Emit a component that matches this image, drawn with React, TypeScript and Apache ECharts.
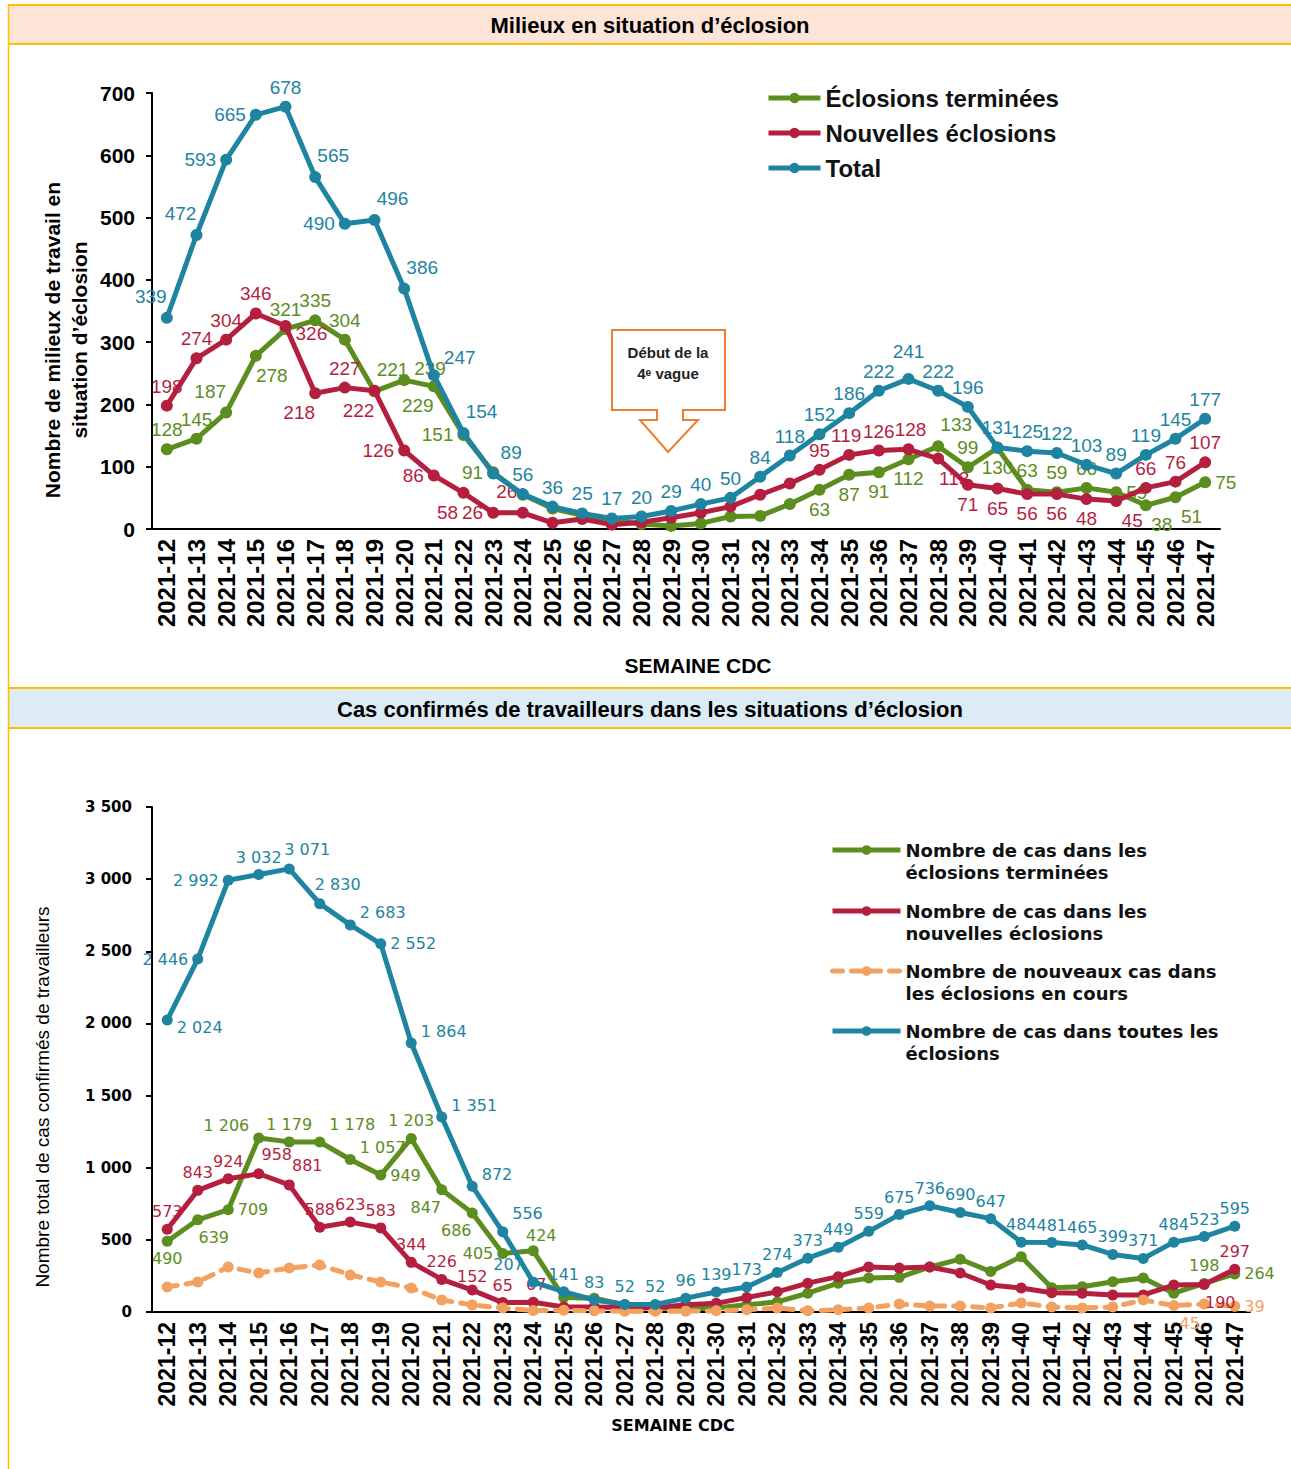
import React, { useEffect, useRef } from "react";
import * as echarts from "echarts";

// ---------- data ----------
const weeks = [
  "2021-12", "2021-13", "2021-14", "2021-15", "2021-16", "2021-17", "2021-18", "2021-19", "2021-20",
  "2021-21", "2021-22", "2021-23", "2021-24", "2021-25", "2021-26", "2021-27", "2021-28", "2021-29",
  "2021-30", "2021-31", "2021-32", "2021-33", "2021-34", "2021-35", "2021-36", "2021-37", "2021-38",
  "2021-39", "2021-40", "2021-41", "2021-42", "2021-43", "2021-44", "2021-45", "2021-46", "2021-47",
];

// Top chart: number of workplaces in outbreak
const eclosionsTerminees = [
  128, 145, 187, 278, 321, 335, 304, 221, 239, 229, 151, 91,
  55, 33, 22, 14, 8, 5, 9, 20, 21, 40,
  63, 87, 91, 112, 133, 99, 130, 63, 59, 66, 59, 38, 51, 75,
];
const nouvellesEclosions = [
  198, 274, 304, 346, 326, 218, 227, 222, 126, 86, 58, 26, 26,
  10, 16, 7, 11, 18, 26, 36, 55, 73,
  95, 119, 126, 128, 113, 71, 65, 56, 56, 48, 45, 66, 76, 107,
];
const totalEclosions = [
  339, 472, 593, 665, 678, 565, 490, 496, 386, 247, 154, 89,
  56, 36, 25, 17, 20, 29, 40, 50, 84, 118, 152, 186,
  222, 241, 222, 196, 131, 125, 122, 103, 89, 119, 145, 177,
];

// Bottom chart: confirmed worker cases
const casTerminees = [
  490, 639, 709, 1206, 1179, 1178, 1057, 949, 1203, 847, 686, 405, 424,
  100, 95, 50, 30, 20, 28, 50, 70, 130, 200, 235, 240, 312, 366, 280, 383, 168, 175, 210, 235, 130,
  198, 264,
];
const casNouvelles = [
  573, 843, 924, 958, 881, 588, 623, 583, 344, 226, 152, 65, 67,
  35, 35, 30, 28, 50, 60, 100, 140, 200, 245, 312, 305, 312, 270, 187, 166, 133, 130, 118, 118, 187,
  190, 297,
];
const casEnCours = [
  173, 208, 312, 270, 305, 326, 257, 208, 166, 83, 49, 28,
  10, 12, 8, 5, 5, 6, 8, 15, 28, 8, 15,
  28, 55, 42, 42, 28, 62, 35, 28, 35, 83, 45, 55, 39,
];
const casTotal = [
  2024, 2446, 2992, 3032, 3071, 2830, 2683, 2552, 1864, 1351, 872, 556, 207,
  141, 83, 52, 52, 96, 139, 173, 274, 373, 449, 559, 675, 736, 690, 647, 484, 481, 465, 399, 371,
  484, 523, 595,
];

const topNames = ["Éclosions terminées", "Nouvelles éclosions", "Total"];
const bottomNames = [
  "Nombre de cas dans les\néclosions terminées",
  "Nombre de cas dans les\nnouvelles éclosions",
  "Nombre de nouveaux cas dans\nles éclosions en cours",
  "Nombre de cas dans toutes les\néclosions",
];

// ---------- label placement (style, per point) ----------
const codes = (s: string) => s.trim().split(/\s+/);
const topTermineesPos = codes("t t tl br t t t tr rt bl l l - - - - - - - - - - b b b b tr t b t t t r br br r");
const topNouvellesPos = codes("t t t t rb bl t bl l l bl l tl - - - - - - - - - t tL t tR br b b b b b br t t t");
const topTotalPos = codes("tl tl l l t tr l tr tr rtt tr tr t t t t t t t t t t t t t tU t t t t t t t t t t");
const botTermineesPos = codes("b br r lt t rtt rt r t bl bl l tr2 - - - - - - - - - - - - - - - - - - - - - t r");
const botNouvellesPos = codes("t t t tr tr t t t t t t2 t t3 - - - - - - - - - - - - - - - - - - - - - br t");
const botEnCoursPos = codes("- - - - - - - - - - - - - - - - - - - - - - - - - - - - - - - - - br - r");
const botTotalPos = codes("rb l l t tr tr rt r rt rt rt rtt l3 t t t t t t t t t t t t t t t t t t t t t t t");

const LBL: Record<string, any> = {
  t: { position: "top" },
  b: { position: "bottom" },
  l: { position: "left" },
  r: { position: "right" },
  tl: { position: "top", offset: [-16, -2] },
  tr: { position: "top", offset: [18, -2] },
  bl: { position: "bottom", offset: [-16, 0] },
  br: { position: "bottom", offset: [16, 0] },
  rt: { position: "right", offset: [0, -12] },
  rtt: { position: "right", offset: [0, -18] },
  rb: { position: "right", offset: [0, 8] },
  lt: { position: "left", offset: [0, -12] },
  l3: { position: "left", offset: [0, -18] },
  tL: { position: "top", offset: [-3, 0] },
  tR: { position: "top", offset: [2, 0] },
  tU: { position: "top", offset: [0, -8] },
  tr2: { position: "top", offset: [8, 2] },
  t2: { position: "top", offset: [0, 4] },
  t3: { position: "top", offset: [3, 0] },
};

const ARIAL = "'Liberation Sans', Arial, sans-serif";
const NARROW = "'Liberation Sans Narrow', 'Liberation Sans', Arial, sans-serif";
const WIDE = "'DejaVu Sans', Verdana, sans-serif";

const GREEN = "#5c8d1f";
const RED = "#b51f3f";
const BLUE = "#1e84a1";
const ORANGE = "#f3a160";

const spaced = (v: number) => String(v).replace(/\B(?=(\d{3})+(?!\d))/g, " ");

function buildSeries(
  name: string,
  values: number[],
  pos: string[],
  color: string,
  axis: number,
  labelFont: any,
  extra: any = {}
) {
  return {
    type: "line",
    name,
    xAxisIndex: axis,
    yAxisIndex: axis,
    data: values.map((v, i) => {
      const c = pos[i];
      if (!c || c === "-") return { value: v, label: { show: false } };
      return { value: v, label: { show: true, ...LBL[c] } };
    }),
    symbol: "circle",
    symbolSize: axis === 0 ? 12 : 11,
    lineStyle: { color, width: 5, ...(extra.lineStyle || {}) },
    itemStyle: { color },
    label: {
      show: true,
      color,
      distance: 4,
      formatter: (p: any) => spaced(p.value),
      ...labelFont,
    },
    emphasis: { disabled: true },
    z: extra.z || 2,
  };
}

export default function App() {
  const ref = useRef<HTMLDivElement>(null);

  useEffect(() => {
    if (!ref.current) return;
    const chart = echarts.init(ref.current, undefined, { renderer: "svg" });

    const topLabelFont = { fontFamily: ARIAL, fontSize: 19 };
    const botLabelFont = { fontFamily: WIDE, fontSize: 16 };

    const option: any = {
      animation: false,
      backgroundColor: "#ffffff",
      grid: [
        { left: 152, top: 93, width: 1068, height: 436 },
        { left: 152, top: 807, width: 1098, height: 505 },
      ],
      xAxis: [
        {
          type: "category",
          gridIndex: 0,
          data: weeks,
          boundaryGap: true,
          axisLine: { lineStyle: { color: "#000", width: 2 } },
          axisTick: { alignWithLabel: true, length: 7, lineStyle: { color: "#000", width: 2 } },
          axisLabel: {
            interval: 0,
            rotate: 90,
            margin: 10,
            color: "#000",
            fontFamily: ARIAL,
            fontWeight: "bold",
            fontSize: 24,
          },
        },
        {
          type: "category",
          gridIndex: 1,
          data: weeks,
          boundaryGap: true,
          axisLine: { lineStyle: { color: "#000", width: 2 } },
          axisTick: { alignWithLabel: true, length: 7, lineStyle: { color: "#000", width: 2 } },
          axisLabel: {
            interval: 0,
            rotate: 90,
            margin: 10,
            color: "#000",
            fontFamily: NARROW,
            fontWeight: "bold",
            fontSize: 23,
          },
        },
      ],
      yAxis: [
        {
          type: "value",
          gridIndex: 0,
          min: 0,
          max: 700,
          interval: 100,
          splitLine: { show: false },
          axisLine: { show: true, lineStyle: { color: "#000", width: 2 } },
          axisTick: { show: true, length: 6, lineStyle: { color: "#000", width: 2 } },
          axisLabel: { color: "#000", fontFamily: ARIAL, fontWeight: "bold", fontSize: 21, margin: 17 },
        },
        {
          type: "value",
          gridIndex: 1,
          min: 0,
          max: 3500,
          interval: 500,
          splitLine: { show: false },
          axisLine: { show: true, lineStyle: { color: "#000", width: 2 } },
          axisTick: { show: true, length: 6, lineStyle: { color: "#000", width: 2 } },
          axisLabel: {
            color: "#000",
            fontFamily: WIDE,
            fontWeight: "bold",
            fontSize: 15,
            margin: 20,
            formatter: (v: number) => spaced(v),
          },
        },
      ],
      legend: [
        {
          data: topNames,
          orient: "vertical",
          left: 766,
          top: 86,
          itemWidth: 52,
          itemHeight: 13,
          itemGap: 11,
          padding: 0,
          lineStyle: { width: 5 },
          textStyle: { fontFamily: ARIAL, fontWeight: "bold", fontSize: 24, color: "#111" },
          selectedMode: false,
        },
        ...bottomNames.map((n, i) => ({
          data: [n],
          orient: "vertical",
          left: 830,
          top: [817, 878, 938, 998][i],
          itemWidth: 68,
          itemHeight: 12,
          padding: 0,
          lineStyle: { width: 5 },
          formatter: (name: string) => "\n" + name,
          textStyle: { fontFamily: WIDE, fontWeight: "bold", fontSize: 18, lineHeight: 22, color: "#111" },
          selectedMode: false,
        })),
      ],
      series: [
        buildSeries(topNames[0], eclosionsTerminees, topTermineesPos, GREEN, 0, topLabelFont, { z: 2 }),
        buildSeries(topNames[1], nouvellesEclosions, topNouvellesPos, RED, 0, topLabelFont, { z: 3 }),
        buildSeries(topNames[2], totalEclosions, topTotalPos, BLUE, 0, topLabelFont, { z: 4 }),
        buildSeries(bottomNames[0], casTerminees, botTermineesPos, GREEN, 1, botLabelFont, { z: 2 }),
        buildSeries(bottomNames[1], casNouvelles, botNouvellesPos, RED, 1, botLabelFont, { z: 3 }),
        buildSeries(bottomNames[2], casEnCours, botEnCoursPos, ORANGE, 1, botLabelFont, {
          z: 3,
          lineStyle: { type: [10, 9], cap: "round" },
        }),
        buildSeries(bottomNames[3], casTotal, botTotalPos, BLUE, 1, botLabelFont, { z: 4 }),
      ],
      graphic: [
        // header 1
        { type: "rect", silent: true, shape: { x: 8, y: 5, width: 1283, height: 39 }, style: { fill: "#FCE4D6" } },
        { type: "line", silent: true, shape: { x1: 8, y1: 5, x2: 1291, y2: 5 }, style: { stroke: "#FFC000", lineWidth: 2 } },
        { type: "line", silent: true, shape: { x1: 8, y1: 44, x2: 1291, y2: 44 }, style: { stroke: "#FFC000", lineWidth: 2 } },
        {
          type: "text",
          silent: true,
          x: 650,
          y: 25,
          style: {
            text: "Milieux en situation d’éclosion",
            fontFamily: ARIAL,
            fontWeight: "bold",
            fontSize: 22,
            fill: "#000",
            align: "center",
            verticalAlign: "middle",
          },
        },
        // header 2
        { type: "rect", silent: true, shape: { x: 8, y: 688, width: 1283, height: 40 }, style: { fill: "#DDEBF7" } },
        { type: "line", silent: true, shape: { x1: 8, y1: 688, x2: 1291, y2: 688 }, style: { stroke: "#FFC000", lineWidth: 2 } },
        { type: "line", silent: true, shape: { x1: 8, y1: 728, x2: 1291, y2: 728 }, style: { stroke: "#FFC000", lineWidth: 2 } },
        {
          type: "text",
          silent: true,
          x: 650,
          y: 709,
          style: {
            text: "Cas confirmés de travailleurs dans les situations d’éclosion",
            fontFamily: ARIAL,
            fontWeight: "bold",
            fontSize: 22,
            fill: "#000",
            align: "center",
            verticalAlign: "middle",
          },
        },
        // left border
        { type: "line", silent: true, shape: { x1: 8.5, y1: 5, x2: 8.5, y2: 1469 }, style: { stroke: "#FFC000", lineWidth: 1.5 } },
        // callout
        {
          type: "polygon",
          silent: true,
          shape: {
            points: [
              [612, 330], [725, 330], [725, 410], [683, 410], [683, 420], [698, 420],
              [668, 452], [640, 420], [657, 420], [657, 410], [612, 410],
            ],
          },
          style: { fill: "#ffffff", stroke: "#ED7D31", lineWidth: 2 },
        },
        {
          type: "text",
          silent: true,
          x: 668,
          y: 352,
          style: { text: "Début de la", fontFamily: NARROW, fontWeight: "bold", fontSize: 15, fill: "#222", align: "center", verticalAlign: "middle" },
        },
        {
          type: "text",
          silent: true,
          x: 668,
          y: 373,
          style: { text: "4ᵉ vague", fontFamily: NARROW, fontWeight: "bold", fontSize: 15, fill: "#222", align: "center", verticalAlign: "middle" },
        },
        // axis titles
        {
          type: "text",
          silent: true,
          x: 66,
          y: 340,
          rotation: Math.PI / 2,
          style: {
            text: "Nombre de milieux de travail en\nsituation d’éclosion",
            fontFamily: ARIAL,
            fontWeight: "bold",
            fontSize: 21,
            lineHeight: 27,
            fill: "#000",
            align: "center",
            verticalAlign: "middle",
          },
        },
        {
          type: "text",
          silent: true,
          x: 698,
          y: 665,
          style: { text: "SEMAINE CDC", fontFamily: ARIAL, fontWeight: "bold", fontSize: 21, fill: "#000", align: "center", verticalAlign: "middle" },
        },
        {
          type: "text",
          silent: true,
          x: 42,
          y: 1097,
          rotation: Math.PI / 2,
          style: {
            text: "Nombre total de cas confirmés de travailleurs",
            fontFamily: ARIAL,
            fontSize: 19,
            fill: "#000",
            align: "center",
            verticalAlign: "middle",
          },
        },
        {
          type: "text",
          silent: true,
          x: 673,
          y: 1425,
          style: { text: "SEMAINE CDC", fontFamily: WIDE, fontWeight: "bold", fontSize: 16, fill: "#000", align: "center", verticalAlign: "middle" },
        },
      ],
    };

    chart.setOption(option);
    return () => chart.dispose();
  }, []);

  return <div ref={ref} style={{ position: "absolute", left: 0, top: 0, width: 1291, height: 1469 }} />;
}
